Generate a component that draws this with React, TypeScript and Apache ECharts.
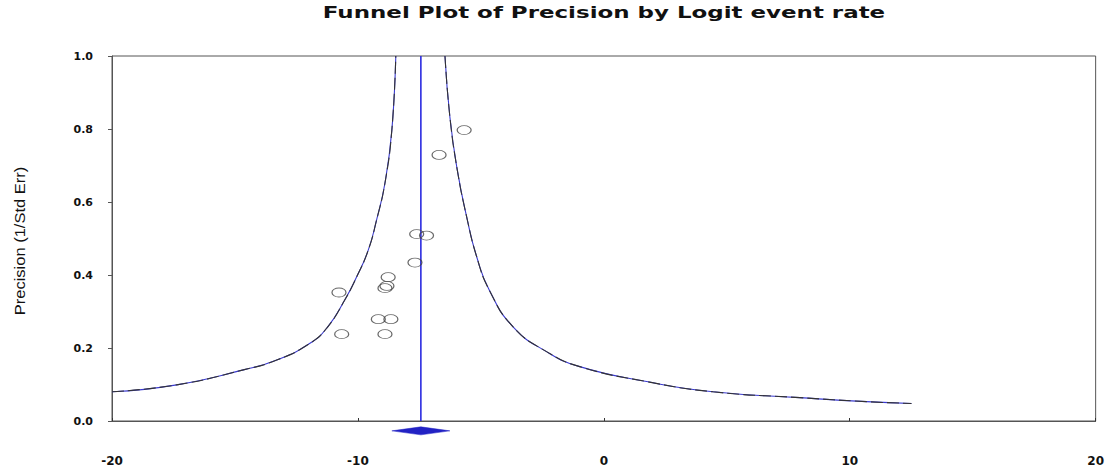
import React, { useEffect, useRef } from "react";
import * as echarts from "echarts";

const TITLE = "Funnel Plot of Precision by Logit event rate";
const Y_NAME = "Precision (1/Std Err)";

const X_MIN = -20;
const X_MAX = 20;
const X_STEP = 10;
const Y_MIN = 0;
const Y_MAX = 1;
const Y_STEP = 0.2;

// Studies: logit event rate vs precision
const studyLogit = [-5.68, -6.7, -7.61, -7.21, -7.68, -8.77, -8.9, -8.82, -10.77, -9.17, -8.66, -10.66, -8.9];
const studyPrecision = [0.797, 0.729, 0.512, 0.508, 0.434, 0.394, 0.364, 0.37, 0.352, 0.279, 0.279, 0.238, 0.238];

// Funnel limits
const funnelLeftX = [-20, -17.37, -14.66, -13.3, -11.95, -11.25, -10.53, -10.05, -9.58, -9.24, -8.9, -8.62, -8.46];
const funnelLeftY = [0.08, 0.099, 0.14, 0.167, 0.213, 0.256, 0.332, 0.395, 0.468, 0.551, 0.652, 0.797, 1.0];
const funnelRightX = [-6.46, -6.26, -5.96, -5.58, -5.17, -4.66, -3.69, -2.33, -0.98, 1.74, 4.44, 7.97, 10.68, 12.51];
const funnelRightY = [1.0, 0.833, 0.688, 0.56, 0.45, 0.359, 0.258, 0.19, 0.149, 0.108, 0.08, 0.064, 0.053, 0.048];

// Combined effect
const meanEffect = -7.44;
const ciLow = -8.62;
const ciHigh = -6.26;
const diamondY = -0.027;
const diamondHalf = 0.011;

const zip = (a: number[], b: number[]) => a.map((v, i) => [v, b[i]]);

export default function App() {
  const ref = useRef<HTMLDivElement>(null);
  useEffect(() => {
    if (!ref.current) return;
    const chart = echarts.init(ref.current, null, { renderer: "svg" });
    const ellipse = "path://M0,10A10,10,0,1,1,20,10A10,10,0,1,1,0,10Z";
    const funnelBase = {
      type: "line",
      showSymbol: false,
      smooth: 0.5,
      silent: true,
      z: 3,
    };
    const labelFont = "'DejaVu Sans', 'Liberation Sans', Arial, sans-serif";
    chart.setOption({
      animation: false,
      backgroundColor: "#ffffff",
      textStyle: { fontFamily: "Liberation Sans, Arial, sans-serif" },
      grid: {
        left: 112,
        right: 11,
        top: 56,
        bottom: 51,
        show: true,
        borderColor: "#555",
        borderWidth: 1,
        backgroundColor: "transparent",
      },
      graphic: [
        {
          type: "text",
          x: 604,
          y: 13,
          scaleX: 1.53,
          style: {
            text: TITLE,
            font: "bold 15px 'DejaVu Sans', 'Liberation Sans', Arial, sans-serif",
            fill: "#111",
            textAlign: "center",
            textVerticalAlign: "middle",
          },
        },
        {
          type: "text",
          x: 20,
          y: 241,
          rotation: Math.PI / 2,
          scaleX: 1.18,
          style: {
            text: Y_NAME,
            font: "14px 'Liberation Sans Narrow', 'Liberation Sans', Arial, sans-serif",
            fill: "#111",
            textAlign: "center",
            textVerticalAlign: "middle",
          },
        },
      ],
      xAxis: {
        type: "value",
        min: X_MIN,
        max: X_MAX,
        interval: X_STEP,
        splitLine: { show: false },
        axisLine: { show: true, onZero: false, lineStyle: { color: "#555", width: 1 } },
        axisTick: { show: true, inside: true, length: 3, lineStyle: { color: "#333" } },
        axisLabel: {
          margin: 34,
          fontSize: 12,
          fontWeight: "bold",
          color: "#111",
          fontFamily: labelFont,
        },
      },
      yAxis: {
        type: "value",
        min: Y_MIN,
        max: Y_MAX,
        interval: Y_STEP,
        splitLine: { show: false },
        axisLine: { show: true, onZero: false, lineStyle: { color: "#555", width: 1 } },
        axisTick: { show: true, length: 4, lineStyle: { color: "#555" } },
        axisLabel: {
          margin: 19,
          fontSize: 11,
          fontWeight: "bold",
          color: "#111",
          fontFamily: labelFont,
          formatter: (v: number) => v.toFixed(1),
        },
      },
      series: [
        {
          ...funnelBase,
          data: zip(funnelLeftX, funnelLeftY),
          lineStyle: { color: "#3a3ad0", width: 1.1 },
        },
        {
          ...funnelBase,
          data: zip(funnelLeftX, funnelLeftY),
          lineStyle: { color: "#333", width: 1.1, type: [12, 4] },
          z: 4,
        },
        {
          ...funnelBase,
          data: zip(funnelRightX, funnelRightY),
          lineStyle: { color: "#3a3ad0", width: 1.1 },
        },
        {
          ...funnelBase,
          data: zip(funnelRightX, funnelRightY),
          lineStyle: { color: "#333", width: 1.1, type: [12, 4] },
          z: 4,
        },
        {
          type: "line",
          showSymbol: false,
          silent: true,
          data: [
            [meanEffect, Y_MIN],
            [meanEffect, Y_MAX],
          ],
          lineStyle: { color: "#2b2be0", width: 1.6 },
          z: 5,
        },
        {
          type: "scatter",
          symbol: ellipse,
          symbolSize: [14, 9],
          symbolKeepAspect: false,
          data: zip(studyLogit, studyPrecision),
          itemStyle: { color: "rgba(0,0,0,0)", borderColor: "#444", borderWidth: 1 },
          z: 6,
        },
        {
          type: "custom",
          clip: false,
          silent: true,
          data: [[meanEffect, diamondY, ciLow, ciHigh, diamondHalf]],
          renderItem: (_params: any, api: any) => {
            const m = api.value(0);
            const y = api.value(1);
            const lo = api.value(2);
            const hi = api.value(3);
            const h = api.value(4);
            const pts = [
              api.coord([lo, y]),
              api.coord([m, y + h]),
              api.coord([hi, y]),
              api.coord([m, y - h]),
            ];
            return {
              type: "polygon",
              shape: { points: pts },
              style: { fill: "#2222c4", stroke: "#2222c4", lineWidth: 0.5 },
            };
          },
          z: 7,
        },
      ],
    });
    return () => chart.dispose();
  }, []);
  return (
    <div
      ref={ref}
      style={{ position: "fixed", left: 0, top: 0, width: 1107, height: 472, background: "#fff" }}
    />
  );
}
